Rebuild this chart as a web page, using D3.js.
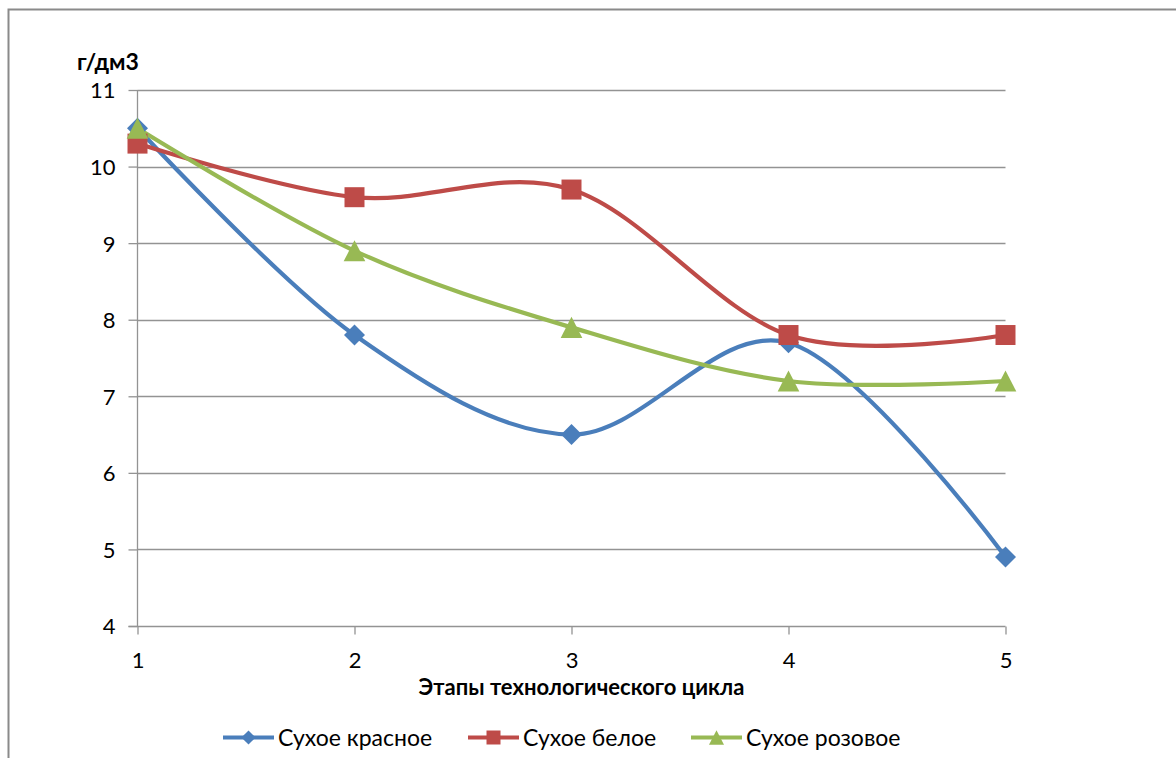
<!DOCTYPE html>
<html><head><meta charset="utf-8">
<script src="https://cdn.jsdelivr.net/npm/d3@7"></script>
<style>body{margin:0;background:#fff}svg{display:block}text{font-family:Lato,"Open Sans",sans-serif;fill:#000}</style>
</head><body><svg id="c" width="1176" height="758"></svg>
<script>
const stages = [1, 2, 3, 4, 5];
const yTicks = [4, 5, 6, 7, 8, 9, 10, 11];
const seriesNames = ["Сухое красное", "Сухое белое", "Сухое розовое"];
const redValues = [10.5, 7.8, 6.5, 7.7, 4.9];
const whiteValues = [10.3, 9.6, 9.7, 7.8, 7.8];
const roseValues = [10.5, 8.9, 7.9, 7.2, 7.2];
const yTitle = "г/дм3";
const xTitle = "Этапы технологического цикла";

const colors = ["#4A7EBB", "#BE4B48", "#98B954"];
const seriesVals = [redValues, whiteValues, roseValues];

// marker shapes as d3 symbol types
const diamond = { draw(ctx, size) { const r = Math.sqrt(size) / 2; ctx.moveTo(0, -r); ctx.lineTo(r, 0); ctx.lineTo(0, r); ctx.lineTo(-r, 0); ctx.closePath(); } };
const tri = { draw(ctx, size) { const w = Math.sqrt(size) / 2; ctx.moveTo(0, -w * 0.97); ctx.lineTo(w, w * 0.97); ctx.lineTo(-w, w * 0.97); ctx.closePath(); } };
const markers = [diamond, d3.symbolSquare, tri];
const markerSizes = [441, 400, 470];
const legendSizes = [200, 196, 225];

const svg = d3.select("#c");
svg.append("rect").attr("x", 8.5).attr("y", 9.5).attr("width", 1180).attr("height", 760)
  .attr("fill", "none").attr("stroke", "#8a8a8a").attr("stroke-width", 2);

const x = d3.scaleLinear().domain([1, 5]).range([137.5, 1005.5]);
const y = d3.scaleLinear().domain([4, 11]).range([626, 90]);
const gridC = "#939393";

// gridlines
svg.append("g").selectAll("line").data(yTicks.filter(d => d > 4)).join("line")
  .attr("x1", x(1)).attr("x2", x(5)).attr("y1", d => Math.round(y(d)) + 0.5).attr("y2", d => Math.round(y(d)) + 0.5)
  .attr("stroke", gridC).attr("stroke-width", 1.3);

// y axis
const ya = svg.append("g").attr("transform", `translate(${x(1)},0)`)
  .call(d3.axisLeft(y).tickValues(yTicks).tickSize(9).tickPadding(13).tickFormat(d3.format("d")));
ya.attr("font-size", null).attr("font-family", null);
ya.select(".domain").attr("stroke", gridC).attr("stroke-width", 1.3).attr("d", `M0,${y(4)}V${y(11)}`);
ya.selectAll(".tick line").attr("stroke", gridC).attr("stroke-width", 1.3);
ya.selectAll(".tick text").style("font-size", "22px").attr("dy", "0.36em").attr("fill", "#000");

// x axis
const xa = svg.append("g").attr("transform", `translate(0,${Math.round(y(4)) + 0.5})`)
  .call(d3.axisBottom(x).tickValues(stages).tickSize(8).tickFormat(d3.format("d")));
xa.attr("font-size", null).attr("font-family", null);
xa.select(".domain").attr("stroke", gridC).attr("stroke-width", 1.3).attr("d", `M${x(1) - 9},0H${x(5)}`);
xa.selectAll(".tick line").attr("stroke", gridC).attr("stroke-width", 1.3);
xa.selectAll(".tick text").style("font-size", "22px").attr("y", 41.5).attr("dy", 0).attr("fill", "#000");

// titles
svg.append("text").attr("x", 77).attr("y", 70).style("font-size", "23px").attr("font-weight", "bold").text(yTitle);
svg.append("text").attr("x", 581.5).attr("y", 695).attr("text-anchor", "middle").style("font-size", "22px")
  .attr("font-weight", "bold").text(xTitle);

// lines
const line = d3.line().x((d, i) => x(stages[i])).y(d => y(d)).curve(d3.curveCardinal.tension(0));
seriesVals.forEach((vals, k) => {
  svg.append("path").attr("d", line(vals)).attr("fill", "none").attr("stroke", colors[k])
    .attr("stroke-width", 4.2).attr("stroke-linecap", "round");
});
seriesVals.forEach((vals, k) => {
  svg.append("g").selectAll("path").data(vals).join("path")
    .attr("transform", (d, i) => `translate(${x(stages[i])},${y(d)})`)
    .attr("d", d3.symbol(markers[k], markerSizes[k])).attr("fill", colors[k]);
});

// legend
const legX = [223, 468, 691];
seriesNames.forEach((name, k) => {
  const g = svg.append("g").attr("transform", `translate(${legX[k]},737.5)`);
  g.append("line").attr("x1", 0).attr("x2", 51).attr("stroke", colors[k]).attr("stroke-width", 4.2);
  g.append("path").attr("transform", "translate(25.5,0)")
    .attr("d", d3.symbol(markers[k], legendSizes[k])).attr("fill", colors[k]);
  g.append("text").attr("x", 55).attr("y", 8).style("font-size", "23px").text(name);
});
</script></body></html>
